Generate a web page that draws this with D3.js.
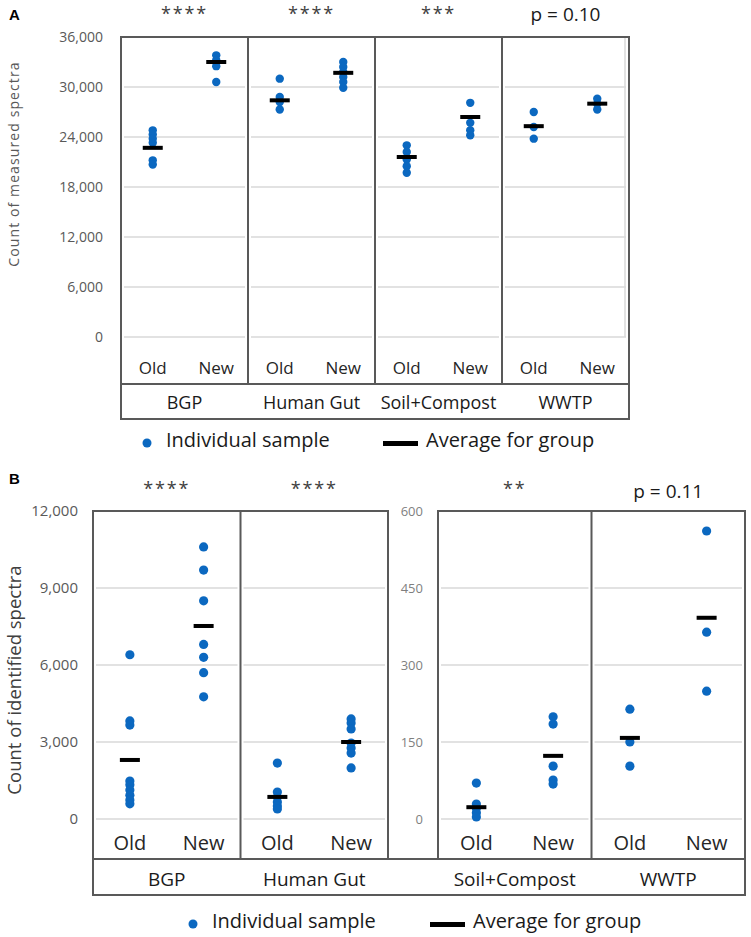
<!DOCTYPE html>
<html>
<head>
<meta charset="utf-8">
<script src="https://cdn.jsdelivr.net/npm/d3@7"></script>
<style>
  body { margin: 0; background: #fff; }
  svg { display: block; font-family: "Open Sans", sans-serif; }
</style>
</head>
<body>
<svg id="chart" width="751" height="937"></svg>
<script>
// groups and methods
const groups = ["BGP", "Human Gut", "Soil+Compost", "WWTP"];
const methods = ["Old", "New"];

// panel A: count of measured spectra (one array per group)
const measuredOld = [
  [24800, 24300, 23800, 23300, 21200, 20700],
  [31000, 28800, 28200, 27300],
  [23000, 22200, 21300, 20500, 19700],
  [27000, 25200, 23800]
];
const measuredNew = [
  [33800, 33200, 32500, 30600],
  [33000, 32400, 31800, 31200, 30600, 29900],
  [28100, 25700, 24800, 24200],
  [28600, 28000, 27300]
];
const measuredOldAvg = [22700, 28400, 21600, 25300];
const measuredNewAvg = [33000, 31700, 26400, 28000];
const measuredSig = ["****", "****", "***", "p = 0.10"];
const measuredTicks = [0, 6000, 12000, 18000, 24000, 30000, 36000];

// panel B: count of identified spectra
const identifiedOld = [
  [6400, 3820, 3660, 1480, 1330, 1130, 930, 740, 590],
  [2180, 1050, 860, 660, 510, 390],
  [70, 29, 21, 12, 4],
  [214, 150, 103]
];
const identifiedNew = [
  [10600, 9700, 8500, 6800, 6300, 5700, 4760],
  [3900, 3740, 3510, 2960, 2770, 2570, 1990],
  [199, 185, 103, 76, 68],
  [561, 364, 249]
];
const identifiedOldAvg = [2300, 860, 23, 158];
const identifiedNewAvg = [7520, 3000, 123, 392];
const identifiedSig = ["****", "****", "**", "p = 0.11"];
const identifiedTicks = [0, 3000, 6000, 9000, 12000];
const identifiedSmallTicks = [0, 150, 300, 450, 600];

const dotColor = "#0b68c0";
const frameColor = "#595959";
const gridColor = "#d9d9d9";
const fmt = d3.format(",");

const svg = d3.select("#chart");

// draws dots, averages, gridlines and x labels for a set of groups
function drawGroups(xBand, y, idx, oldPts, newPts, oldAvg, newAvg, labelY, labelSize, r, ticks) {
  const bw = xBand.bandwidth();
  const xm = d3.scalePoint().domain(methods).range([0, bw]).padding(0.5);
  const g = svg.append("g");

  idx.forEach((i) => {
    const x0 = xBand(groups[i]);
    const cell = g.append("g").attr("transform", "translate(" + x0 + ",0)");

    cell.selectAll("line.grid")
      .data(ticks)
      .enter()
      .append("line")
      .attr("class", "grid")
      .attr("x1", 3)
      .attr("x2", bw - 3)
      .attr("y1", (d) => y(d))
      .attr("y2", (d) => y(d))
      .attr("stroke", gridColor)
      .attr("stroke-width", 1.5);

    const sets = [
      { m: "Old", pts: oldPts[i], avg: oldAvg[i] },
      { m: "New", pts: newPts[i], avg: newAvg[i] }
    ];

    sets.forEach((s) => {
      cell.selectAll(null)
        .data(s.pts)
        .enter()
        .append("circle")
        .attr("cx", xm(s.m))
        .attr("cy", (d) => y(d))
        .attr("r", r)
        .attr("fill", dotColor);

      cell.append("rect")
        .attr("x", xm(s.m) - 10)
        .attr("y", y(s.avg) - 2)
        .attr("width", 20)
        .attr("height", 4)
        .attr("fill", "#000");

      cell.append("text")
        .attr("x", xm(s.m))
        .attr("y", labelY)
        .attr("text-anchor", "middle")
        .attr("dominant-baseline", "central")
        .attr("font-size", labelSize)
        .attr("fill", "#262626")
        .text(s.m);
    });
  });
}

function drawSig(xBand, idx, sig, starY, pY) {
  idx.forEach((i) => {
    const cx = xBand(groups[i]) + xBand.bandwidth() / 2;
    const isP = sig[i].startsWith("p");
    svg.append("text")
      .attr("x", cx)
      .attr("y", isP ? pY : starY)
      .attr("text-anchor", "middle")
      .attr("font-size", isP ? 19 : 18)
      .attr("letter-spacing", isP ? 0 : 1.8)
      .attr("fill", isP ? "#1a1a1a" : "#404040")
      .text(sig[i]);
  });
}

function drawCategories(xBand, idx, cy, size) {
  idx.forEach((i) => {
    svg.append("text")
      .attr("x", xBand(groups[i]) + xBand.bandwidth() / 2)
      .attr("y", cy)
      .attr("text-anchor", "middle")
      .attr("dominant-baseline", "central")
      .attr("font-size", size)
      .attr("fill", "#1a1a1a")
      .text(groups[i]);
  });
}

function drawAxis(y, x, ticks, pad, size, color) {
  const ax = svg.append("g")
    .attr("transform", "translate(" + x + ",0)")
    .call(d3.axisLeft(y).tickValues(ticks).tickFormat(fmt).tickSize(0).tickPadding(pad));
  ax.select(".domain").remove();
  ax.selectAll("text")
    .attr("font-family", "Open Sans, sans-serif")
    .attr("font-size", size)
    .attr("fill", color);
}

function frame(x0, y0, x1, y1) {
  svg.append("rect")
    .attr("x", x0).attr("y", y0)
    .attr("width", x1 - x0).attr("height", y1 - y0)
    .attr("fill", "none")
    .attr("stroke", frameColor)
    .attr("stroke-width", 2);
}

function vline(x, y0, y1) {
  svg.append("line")
    .attr("x1", x).attr("x2", x).attr("y1", y0).attr("y2", y1)
    .attr("stroke", frameColor).attr("stroke-width", 2);
}

function legend(dotX, y, barX, size) {
  svg.append("circle").attr("cx", dotX).attr("cy", y + 4).attr("r", 4.5).attr("fill", dotColor);
  svg.append("text")
    .attr("x", dotX + 19).attr("y", y)
    .attr("dominant-baseline", "central")
    .attr("font-size", size).attr("fill", "#1a1a1a")
    .text("Individual sample");
  svg.append("rect").attr("x", barX).attr("y", y + 2).attr("width", 35).attr("height", 5).attr("fill", "#000");
  svg.append("text")
    .attr("x", barX + 43).attr("y", y)
    .attr("dominant-baseline", "central")
    .attr("font-size", size).attr("fill", "#1a1a1a")
    .text("Average for group");
}

function panelLetter(t, y) {
  svg.append("text")
    .attr("x", 9).attr("y", y)
    .attr("font-family", "Liberation Sans, Arial, sans-serif")
    .attr("font-weight", "bold")
    .attr("font-size", 15)
    .text(t);
}

// ---------- panel A ----------
const yA = d3.scaleLinear().domain([0, 36000]).range([337, 37]);
const xA = d3.scaleBand().domain(groups).range([121, 629]);
const allIdx = [0, 1, 2, 3];

panelLetter("A", 20);
drawGroups(xA, yA, allIdx, measuredOld, measuredNew, measuredOldAvg, measuredNewAvg, 367, 17, 4.2, measuredTicks);
svg.append("line")
  .attr("x1", 625).attr("x2", 625).attr("y1", 38).attr("y2", yA(0))
  .attr("stroke", gridColor).attr("stroke-width", 1.5);
frame(121, 37, 629, 419);
svg.append("line").attr("x1", 121).attr("x2", 629).attr("y1", 384).attr("y2", 384)
  .attr("stroke", frameColor).attr("stroke-width", 2);
groups.slice(1).forEach((gname) => vline(xA(gname), 37, 384));
drawAxis(yA, 121, measuredTicks, 18, 14, "#595959");
drawCategories(xA, allIdx, 402, 18);
drawSig(xA, allIdx, measuredSig, 19.5, 21);

svg.append("text")
  .attr("transform", "translate(19," + 164 + ") rotate(-90)")
  .attr("text-anchor", "middle")
  .attr("font-size", 14)
  .attr("letter-spacing", 1.1)
  .attr("fill", "#595959")
  .text("Count of measured spectra");

legend(147, 439, 383, 20);

// ---------- panel B ----------
const yB = d3.scaleLinear().domain([0, 12000]).range([819, 511]);
const yB2 = d3.scaleLinear().domain([0, 600]).range([819, 511]);
const xBL = d3.scaleBand().domain(groups.slice(0, 2)).range([93, 388]);
const xBR = d3.scaleBand().domain(groups.slice(2)).range([438, 745]);

panelLetter("B", 484);
drawGroups(xBL, yB, [0, 1], identifiedOld, identifiedNew, identifiedOldAvg, identifiedNewAvg, 842, 20, 4.6, identifiedTicks);
drawGroups(xBR, yB2, [2, 3], identifiedOld, identifiedNew, identifiedOldAvg, identifiedNewAvg, 842, 20, 4.6, identifiedSmallTicks);
frame(93, 511, 388, 859);
frame(438, 511, 745, 859);
frame(93, 859, 745, 895);
vline(xBL("Human Gut"), 511, 859);
vline(xBR("WWTP"), 511, 859);
drawAxis(yB, 93, identifiedTicks, 15, 15, "#595959");
drawAxis(yB2, 438, identifiedSmallTicks, 15, 13, "#7f7f7f");
drawCategories(xBL, [0, 1], 879, 19);
drawCategories(xBR, [2, 3], 879, 19);
drawSig(xBL, [0, 1], identifiedSig, 495, 498);
drawSig(xBR, [2, 3], identifiedSig, 495, 498);

svg.append("text")
  .attr("transform", "translate(21," + 680 + ") rotate(-90)")
  .attr("text-anchor", "middle")
  .attr("font-size", 18.5)
  .attr("fill", "#404040")
  .text("Count of identified spectra");

legend(193, 920, 430, 20);
</script>
</body>
</html>
